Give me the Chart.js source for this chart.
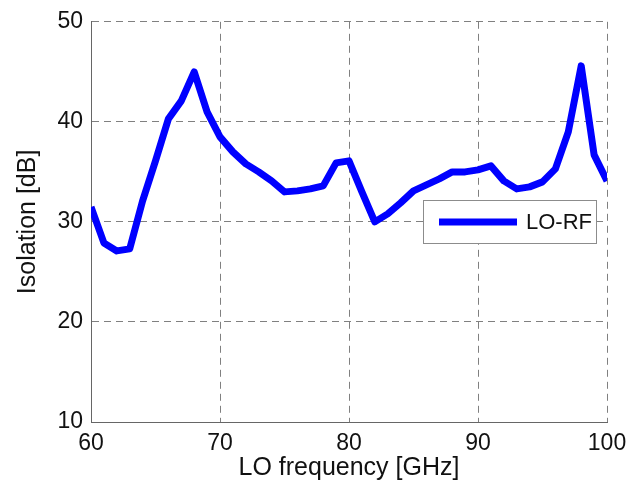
<!DOCTYPE html>
<html>
<head>
<meta charset="utf-8">
<script src="https://cdn.jsdelivr.net/npm/chart.js@4/dist/chart.umd.min.js"></script>
<style>
    html, body { margin: 0; padding: 0; background: #ffffff; }
    #wrap { width: 643px; height: 492px; }
</style>
</head>
<body>
<div id="wrap"><canvas id="chart" width="643" height="492"></canvas></div>
<script>
const frequencies = [60, 61, 62, 63, 64, 65, 66, 67, 68, 69, 70, 71, 72, 73, 74, 75, 76, 77, 78, 79, 80,
    81, 82, 83, 84, 85, 86, 87, 88, 89, 90, 91, 92, 93, 94, 95, 96, 97, 98, 99, 100];
const isolation = [31.5, 27.9, 27.1, 27.3, 32.1, 36.1, 40.3, 42.1, 45.0, 41.0, 38.5, 37.0, 35.8, 35.0, 34.1, 33.0, 33.1, 33.3, 33.6, 35.9, 36.1,
    33.0, 30.0, 30.8, 31.9, 33.1, 33.7, 34.3, 35.0, 35.0, 35.2, 35.6, 34.1, 33.3, 33.5, 34.0, 35.3, 39.0, 45.6, 36.7, 34.1];
const xTicks = [60, 70, 80, 90, 100];
const yTicks = [10, 20, 30, 40, 50];
const seriesLabel = "LO-RF";

const FONT = "'Liberation Sans', Arial, sans-serif";
const LINE_COLOR = "#0000ff";
const GRID_COLOR = "#808080";

// legend box drawn inside the plot area, like the matlab figure
const insideLegend = {
    id: "insideLegend",
    afterDraw(chart) {
        const ctx = chart.ctx;
        const ds = chart.data.datasets[0];
        const x0 = 423, y0 = 200, w = 173, h = 43;
        ctx.save();
        ctx.fillStyle = "#ffffff";
        ctx.fillRect(x0, y0, w, h);
        ctx.strokeStyle = "#8c8c8c";
        ctx.lineWidth = 1;
        ctx.strokeRect(x0 + 0.5, y0 + 0.5, w, h);
        ctx.strokeStyle = ds.borderColor;
        ctx.lineWidth = ds.borderWidth;
        ctx.beginPath();
        ctx.moveTo(x0 + 16, y0 + 22);
        ctx.lineTo(x0 + 94, y0 + 22);
        ctx.stroke();
        ctx.fillStyle = "#111111";
        ctx.font = "22px " + FONT;
        ctx.textBaseline = "middle";
        ctx.fillText(ds.label, x0 + 103, y0 + 23);
        ctx.restore();
    },
};

const points = frequencies.map((f, i) => ({ x: f, y: isolation[i] }));

new Chart(document.getElementById("chart"), {
    type: "line",
    data: {
        datasets: [
            {
                label: seriesLabel,
                data: points,
                borderColor: LINE_COLOR,
                borderWidth: 7,
                borderJoinStyle: "round",
                tension: 0,
                pointRadius: 0,
                fill: false,
            },
        ],
    },
    options: {
        responsive: false,
        animation: false,
        devicePixelRatio: 1,
        layout: {
            padding: { left: 0, right: 36, top: 21, bottom: 0 },
        },
        plugins: {
            legend: { display: false },
            tooltip: { enabled: false },
        },
        scales: {
            x: {
                type: "linear",
                min: 60,
                max: 100,
                afterBuildTicks: (scale) => {
                    scale.ticks = xTicks.map((v) => ({ value: v }));
                },
                afterFit: (scale) => {
                    scale.height = 70;
                },
                grid: {
                    color: GRID_COLOR,
                    lineWidth: 1,
                    drawTicks: false,
                },
                border: {
                    display: true,
                    color: "#666666",
                    width: 1,
                    dash: [7, 5],
                },
                ticks: {
                    color: "#111111",
                    padding: 8,
                    maxRotation: 0,
                    font: { family: FONT, size: 23 },
                },
                title: {
                    display: true,
                    text: "LO frequency [GHz]",
                    color: "#111111",
                    font: { family: FONT, size: 25 },
                    padding: { top: 0, bottom: 9 },
                },
            },
            y: {
                min: 10,
                max: 50,
                afterBuildTicks: (scale) => {
                    scale.ticks = yTicks.map((v) => ({ value: v }));
                },
                afterFit: (scale) => {
                    scale.width = 91;
                },
                grid: {
                    color: GRID_COLOR,
                    lineWidth: 1,
                    drawTicks: false,
                },
                border: {
                    display: true,
                    color: "#666666",
                    width: 1,
                    dash: [7, 5],
                },
                ticks: {
                    color: "#111111",
                    padding: 8,
                    font: { family: FONT, size: 23 },
                },
                title: {
                    display: true,
                    text: "Isolation [dB]",
                    color: "#111111",
                    font: { family: FONT, size: 25 },
                    padding: { top: 13, bottom: 0 },
                },
            },
        },
    },
    plugins: [insideLegend],
});
</script>
</body>
</html>
